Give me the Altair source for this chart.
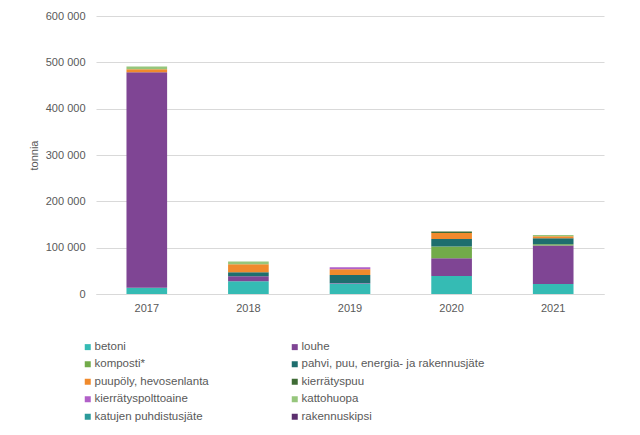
import altair as alt
import pandas as pd

years = ["2017", "2018", "2019", "2020", "2021"]
categories = [
    "betoni", "louhe", "komposti*", "pahvi, puu, energia- ja rakennusjäte",
    "puupöly, hevosenlanta", "kierrätyspuu", "kierrätyspolttoaine",
    "kattohuopa", "katujen puhdistusjäte", "rakennuskipsi",
]
colors = ["#35bbb4", "#7f4594", "#72ab4a", "#1e6e6e", "#f08a2c",
          "#3f6b35", "#b160c8", "#96c67c", "#2b9a9a", "#5b2f6e"]

betoni = [13600, 27400, 22500, 38900, 21600]
louhe = [465000, 10800, 1500, 38200, 83000]
komposti = [0, 0, 0, 25200, 2800]
pahvi = [0, 8600, 17000, 16600, 13000]
puupoly = [6500, 17300, 12500, 13000, 4300]
kierratyspuu = [0, 0, 0, 2800, 0]
kierratyspolttoaine = [0, 0, 4000, 0, 0]
kattohuopa = [5800, 5800, 0, 0, 2800]
katujen = [0, 0, 0, 0, 0]
rakennuskipsi = [0, 0, 0, 0, 0]

series = [betoni, louhe, komposti, pahvi, puupoly, kierratyspuu,
          kierratyspolttoaine, kattohuopa, katujen, rakennuskipsi]

rows = []
for ci, (cat, vals) in enumerate(zip(categories, series)):
    for y, v in zip(years, vals):
        rows.append({"vuosi": y, "jae": cat, "tonnia": v, "ord": ci})
df = pd.DataFrame(rows)

chart = alt.Chart(df).mark_bar().encode(
    x=alt.X("vuosi:N", title=None,
            scale=alt.Scale(paddingInner=0.6, paddingOuter=0.3),
            axis=alt.Axis(labelAngle=0, labelFontSize=11, labelColor="#595959",
                          domainColor="#d9d9d9", ticks=False, labelPadding=8,
                          labelFont="Liberation Sans")),
    y=alt.Y("sum(tonnia):Q", title="tonnia",
            scale=alt.Scale(domain=[0, 600000], nice=False),
            axis=alt.Axis(values=[0, 100000, 200000, 300000, 400000, 500000, 600000],
                          labelExpr="replace(format(datum.value, ','), ',', ' ')",
                          labelFontSize=11, labelColor="#595959", labelPadding=11,
                          ticks=False, domain=False, gridColor="#d9d9d9",
                          titleFontSize=11, titleColor="#595959", titleFontWeight="normal",
                          titlePadding=6, labelFont="Liberation Sans",
                          titleFont="Liberation Sans")),
    color=alt.Color("jae:N", sort=categories,
                    scale=alt.Scale(domain=categories, range=colors),
                    legend=alt.Legend(title=None, orient="none", legendX=-14, legendY=325,
                                      columns=2, direction="horizontal",
                                      columnPadding=80, rowPadding=4.5,
                                      symbolType="square", symbolSize=36,
                                      symbolStrokeWidth=0, symbolOffset=0,
                                      labelOffset=1,
                                      labelFontSize=11.5, labelColor="#595959",
                                      labelFont="Liberation Sans", labelLimit=300)),
    order=alt.Order("ord:Q", sort="ascending"),
).properties(
    width=508, height=278, background="white",
    autosize=alt.AutoSizeParams(type="none"),
    padding={"left": 88, "top": 8, "right": 28, "bottom": 133},
).configure_view(stroke=None)

chart.save("out.html", embed_options={"renderer": "svg", "actions": False})
